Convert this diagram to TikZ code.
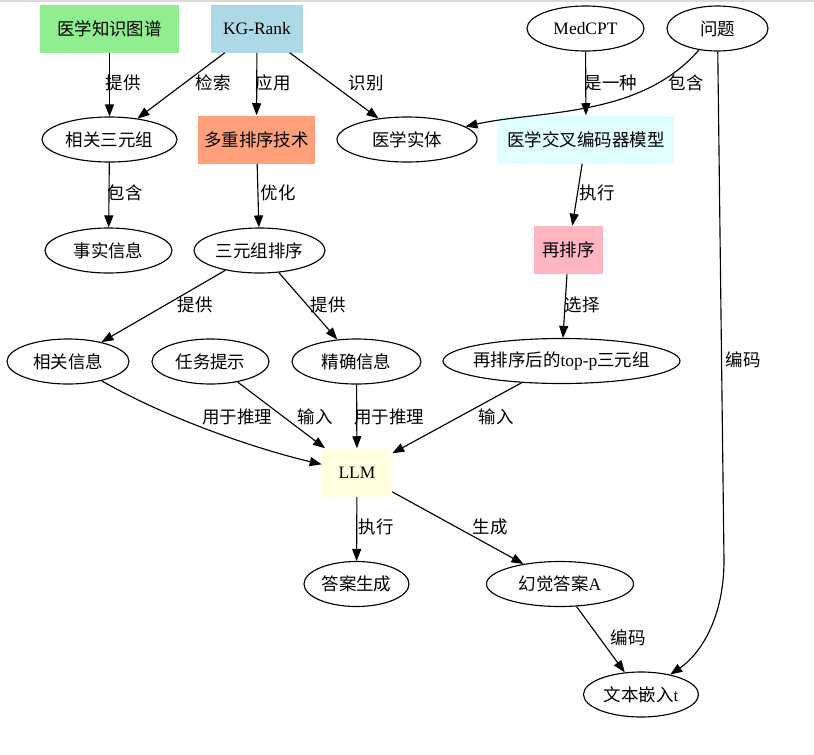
\documentclass[tikz,border=0pt]{standalone}
\usepackage{fontspec}
\setmainfont{Liberation Serif}
\newfontfamily\cjk{Noto Sans CJK SC}
\usetikzlibrary{shapes.geometric,arrows.meta}
\definecolor{cgreen}{HTML}{90EE90}
\definecolor{cblue}{HTML}{ADD8E6}
\definecolor{csalmon}{HTML}{FFA07A}
\definecolor{ccyan}{HTML}{E0FFFF}
\definecolor{cpink}{HTML}{FFB6C1}
\definecolor{cyellow}{HTML}{FFFFE0}
\tikzset{
  txt/.style={font=\fontsize{13.1pt}{15pt}\selectfont},
  boxnode/.style={txt, rectangle, draw=none, inner sep=0pt, minimum height=36pt},
  ellnode/.style={txt, ellipse, draw, line width=0.85pt, inner sep=0pt, minimum height=33.75pt},
  edge/.style={line width=0.85pt, -{Triangle[length=9pt,width=6.75pt]}},
  lab/.style={txt, inner sep=0pt},
}
\begin{document}
\begin{tikzpicture}[x=0.75pt, y=-0.75pt]
\fill[white] (0,0) rectangle (814,754);
\useasboundingbox (0,0) rectangle (814,754);
\fill[gray!30] (0,0) rectangle (814,1.6);

% nodes
\node[boxnode, fill=cgreen, minimum width=104.25pt] (kg) at (109.5,28.5) {\cjk 医学知识图谱};
\node[boxnode, fill=cblue, minimum width=69pt] (rank) at (257,28.5) {KG-Rank};
\node[ellnode, minimum width=87.75pt] (medcpt) at (585.5,28.5) {MedCPT};
\node[ellnode, minimum width=75.75pt] (q) at (717.5,28.5) {\cjk 问题};

\node[ellnode, minimum width=101.25pt] (rel3) at (109.5,139.5) {\cjk 相关三元组};
\node[boxnode, fill=csalmon, minimum width=87.75pt] (multi) at (256.5,139.5) {\cjk 多重排序技术};
\node[ellnode, minimum width=105pt] (ent) at (407,139.5) {\cjk 医学实体};
\node[boxnode, fill=ccyan, minimum width=132pt] (cross) at (586,139.5) {\cjk 医学交叉编码器模型};

\node[ellnode, minimum width=95.25pt] (fact) at (108.5,250.5) {\cjk 事实信息};
\node[ellnode, minimum width=98.25pt] (sort3) at (259.5,250.5) {\cjk 三元组排序};
\node[boxnode, fill=cpink, minimum width=51.75pt] (rerank) at (568.5,250) {\cjk 再排序};

\node[ellnode, minimum width=91.5pt] (relinfo) at (68,361.5) {\cjk 相关信息};
\node[ellnode, minimum width=87.75pt] (task) at (210.5,361.5) {\cjk 任务提示};
\node[ellnode, minimum width=96.75pt] (exact) at (356.5,361.5) {\cjk 精确信息};
\node[ellnode, minimum width=177.75pt, inner xsep=-4pt] (topp) at (561.5,361) {{\cjk 再排序后的}top-p{\cjk 三元组}};

\node[boxnode, fill=cyellow, minimum width=52.5pt] (llm) at (357,472.5) {LLM};

\node[ellnode, minimum width=78.75pt] (ans) at (356.5,584) {\cjk 答案生成};
\node[ellnode, minimum width=110.25pt] (hall) at (560,584) {{\cjk 幻觉答案}A};
\node[ellnode, minimum width=86.25pt] (emb) at (641,694.5) {{\cjk 文本嵌入}t};

% edges
\draw[edge] (kg) -- (rel3) node[lab] at (123,83) {\cjk 提供};
\draw[edge] (rank) -- (rel3) node[lab] at (213,83) {\cjk 检索};
\draw[edge] (rank) -- (multi) node[lab] at (273,83) {\cjk 应用};
\draw[edge] (rank) -- (ent) node[lab] at (366,83) {\cjk 识别};
\draw[edge] (medcpt) -- (cross) node[lab] at (611,83) {\cjk 是一种};
\draw[edge] (q) .. controls (640,118) and (540,110) .. (ent) node[lab] at (686,83) {\cjk 包含};
\draw[edge] (q) -- (724,560) .. controls (724,620) and (699,655) .. (emb) node[lab] at (743,360) {\cjk 编码};

\draw[edge] (rel3) -- (fact) node[lab] at (125,193) {\cjk 包含};
\draw[edge] (multi) -- (sort3) node[lab] at (278,193) {\cjk 优化};
\draw[edge] (cross) -- (rerank) node[lab] at (597,193) {\cjk 执行};

\draw[edge] (sort3) -- (relinfo) node[lab] at (195,305) {\cjk 提供};
\draw[edge] (sort3) -- (exact) node[lab] at (328,305) {\cjk 提供};
\draw[edge] (rerank) -- (topp) node[lab] at (582,305) {\cjk 选择};

\draw[edge] (relinfo) .. controls (170,420) and (260,450) .. (llm) node[lab] at (237,417) {\cjk 用于推理};
\draw[edge] (task) -- (llm) node[lab] at (315,417) {\cjk 输入};
\draw[edge] (exact) -- (llm) node[lab] at (389,417) {\cjk 用于推理};
\draw[edge] (topp) -- (llm) node[lab] at (496,417) {\cjk 输入};

\draw[edge] (llm) -- (ans) node[lab] at (376,527) {\cjk 执行};
\draw[edge] (llm) -- (hall) node[lab] at (490,527) {\cjk 生成};
\draw[edge] (hall) -- (emb) node[lab] at (628,638) {\cjk 编码};
\end{tikzpicture}
\end{document}
